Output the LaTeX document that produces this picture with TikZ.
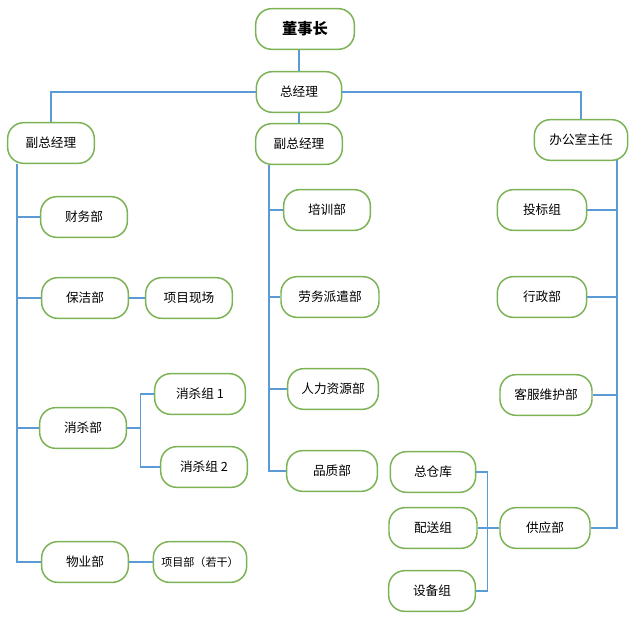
\documentclass[tikz,border=0pt]{standalone}
\usepackage{fontspec}
\setmainfont{Noto Sans CJK SC}
\definecolor{boxgreen}{RGB}{122,178,84}
\definecolor{linkblue}{RGB}{91,155,213}

\begin{document}
\begin{tikzpicture}[x=0.75pt, y=-0.75pt,
  box/.style={draw=boxgreen, line width=1.1pt, rounded corners=12pt, fill=white,
    minimum width=65pt, minimum height=30.5pt, inner sep=1pt,
    font=\fontsize{9.5}{11}\selectfont},
  link/.style={draw=linkblue, line width=0.8pt}]
\useasboundingbox (0,0) rectangle (642,623);

\node[box, minimum width=74pt, font=\fontsize{11.5}{13}\selectfont\bfseries] at (305,29) (dsz) {董事长};
\node[box, minimum width=64pt] at (299,92) (zjl) {总经理};
\node[box] at (51,143) (f1) {副总经理};
\node[box] at (299,144) (f2) {副总经理};
\node[box, minimum width=70pt] at (581,140) (bgs) {办公室主任};

\node[box] at (84,217) (cw) {财务部};
\node[box] at (85,298) (bj) {保洁部};
\node[box] at (189,298) (xm) {项目现场};
\node[box] at (83,428) (xs) {消杀部};
\node[box, minimum width=68pt] at (200,394) (z1) {消杀组 1};
\node[box] at (204,467) (z2) {消杀组 2};
\node[box] at (85,562) (wy) {物业部};
\node[box, minimum width=70pt, font=\fontsize{8.3}{10}\selectfont] at (200,562) (xmb) {项目部（若干）};

\node[box] at (327,210) (px) {培训部};
\node[box, minimum width=73.5pt] at (330,297) (lw) {劳务派遣部};
\node[box, minimum width=68pt] at (333,389) (rl) {人力资源部};
\node[box, minimum width=68pt] at (332,471) (pz) {品质部};

\node[box, minimum width=67pt] at (542,210) (tb) {投标组};
\node[box, minimum width=67pt] at (542,297) (xz) {行政部};
\node[box, minimum width=69pt] at (546,395) (kf) {客服维护部};
\node[box, minimum width=67.5pt] at (545,528) (gy) {供应部};
\node[box, minimum width=64pt] at (433,472) (ck) {总仓库};
\node[box, minimum width=66pt] at (433,528) (ps) {配送组};
\node[box] at (432,591) (sb) {设备组};

% spines
\coordinate (s1) at (17,164);
\coordinate (s2) at (269,165);
\coordinate (s3) at (617,160);

\draw[link] (zjl.north) -- (zjl.north |- dsz.south);
\draw[link] (zjl.south) -- (f2.north);
\draw[link] (zjl.west) -| (f1.north);
\draw[link] (zjl.east) -| (bgs.north);

\draw[link] (s1) |- (cw.west);
\draw[link] (s1) |- (bj.west);
\draw[link] (s1) |- (xs.west);
\draw[link] (s1) |- (wy.west);
\draw[link] (bj.east) -- (xm.west);
\draw[link] (xs.east) -- ++(13,0) |- (z1.west);
\draw[link] (xs.east) -- ++(13,0) |- (z2.west);
\draw[link] (wy.east) -- (xmb.west);

\draw[link] (s2) |- (px.west);
\draw[link] (s2) |- (lw.west);
\draw[link] (s2) |- (rl.west);
\draw[link] (s2) |- (pz.west);

\draw[link] (s3) |- (tb.east);
\draw[link] (s3) |- (xz.east);
\draw[link] (s3) |- (kf.east);
\draw[link] (s3) |- (gy.east);
\draw[link] (gy.west) -- ++(-12,0) |- (ck.east);
\draw[link] (gy.west) -- (ps.east);
\draw[link] (gy.west) -- ++(-12,0) |- (sb.east);
\end{tikzpicture}
\end{document}
